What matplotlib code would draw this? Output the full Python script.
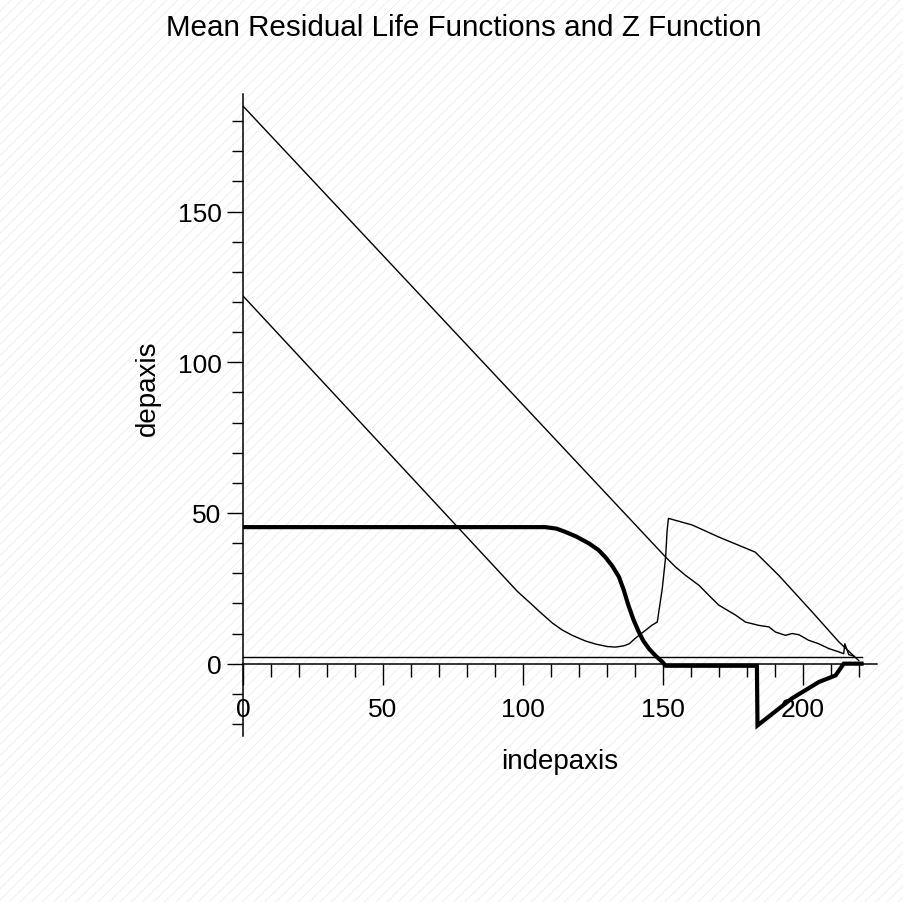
import matplotlib
matplotlib.use("Agg")
import matplotlib.pyplot as plt
from matplotlib.patches import Rectangle
from matplotlib.ticker import FixedLocator

plt.rcParams['font.family'] = ['Liberation Sans', 'DejaVu Sans']
plt.rcParams['hatch.linewidth'] = 0.6

# ---- data ----
upper_x = [0, 150.95, 154.5, 158.1, 162.9, 166.4, 170.0, 176.0, 179.5, 184.3, 187.9,
           190.2, 193.8, 196.2, 198.6, 202.1, 205.7, 209.3, 212.9, 214.6, 215.0,
           216.4, 218.2]
upper_y = [185, 35.4, 32.1, 29.3, 26.0, 22.7, 19.4, 16.1, 13.8, 12.7, 12.2,
           10.5, 9.4, 10.0, 9.6, 7.75, 6.6, 5.0, 3.9, 3.3, 6.6,
           3.0, 2.5]

lower_x = [0, 98, 100, 103, 106, 110.5, 114, 117.6, 122.4, 126, 130,
           133, 136, 138, 140, 143, 146, 148, 149.8, 151, 151.5, 152, 160.5,
           170, 183, 191.4, 203.3, 212.9, 220]
lower_y = [122, 24.0, 22.3, 19.8, 17.2, 13.5, 11.2, 9.4, 7.5, 6.5, 5.7,
           5.5, 5.9, 6.6, 8.3, 10.5, 12.7, 13.8, 25, 35.5, 44, 48.2, 46,
           42, 37, 29.3, 17.2, 7.2, 1]

z_x = [0, 108, 112, 115.2, 119, 123.6, 127, 129.5, 132, 134.3, 136, 137.6, 139.5,
       141.4, 143, 145, 147.5, 149.8, 151, 183.6, 183.8, 196, 205.7, 211.7,
       213.5, 214.6, 221]
z_y = [45.3, 45.3, 44.8, 43.7, 42.2, 39.9, 37.7, 35.3, 32.3, 28.8, 24.5, 19.6, 14.6,
       10.5, 7.6, 5.0, 2.5, 0.6, -0.7, -0.7, -20.5, -11.6, -6.1, -3.9,
       -1.5, 0, 0]

hline_x = [0, 221]
hline_y = [2.2, 2.2]

x_major = [0, 50, 100, 150, 200]
x_major_labels = ['0', '50', '100', '150', '200']
y_major = [0, 50, 100, 150]

title = "Mean Residual Life Functions and Z Function"
xlabel = "indepaxis"
ylabel = "depaxis"

W, H = 904, 903
fig = plt.figure(figsize=(W / 100, H / 100), dpi=100)
fig.patch.set_facecolor('white')
bg = Rectangle((0, 0), 1, 1, transform=fig.transFigure, facecolor='white',
               edgecolor='#ebebeb', linewidth=0, hatch='///', zorder=-10)
fig.patches.append(bg)

left, right, top, bottom = 243, 877, 95, 737
ax = fig.add_axes([left / W, 1 - bottom / H, (right - left) / W, (bottom - top) / H])
ax.set_facecolor('none')
ax.set_xlim(0, 226.5)
ax.set_ylim(-24, 189)

for s in ['top', 'right']:
    ax.spines[s].set_visible(False)
ax.spines['left'].set_position(('data', 0))
ax.spines['bottom'].set_position(('data', 0))
for s in ['left', 'bottom']:
    ax.spines[s].set_linewidth(1.1)
    ax.spines[s].set_color('black')

ax.plot(upper_x, upper_y, color='black', lw=1.0)
ax.plot(lower_x, lower_y, color='black', lw=1.0)
ax.plot(hline_x, hline_y, color='black', lw=1.0)
ax.plot(z_x, z_y, color='black', lw=3.0, solid_joinstyle='miter')

ax.xaxis.set_major_locator(FixedLocator(x_major))
ax.set_xticklabels(x_major_labels)
ax.xaxis.set_minor_locator(FixedLocator([v for v in range(10, 230, 10) if v % 50 != 0]))
ax.yaxis.set_major_locator(FixedLocator(y_major))
ax.yaxis.set_minor_locator(FixedLocator([v for v in range(-20, 190, 10) if v % 50 != 0]))

ax.tick_params(axis='x', which='major', direction='out', length=15, width=1.0,
               pad=9, labelsize=19)
ax.tick_params(axis='x', which='minor', direction='out', length=9.5, width=1.0)
ax.tick_params(axis='y', which='major', direction='out', length=11.5, width=1.0,
               pad=4, labelsize=19)
ax.tick_params(axis='y', which='minor', direction='out', length=8, width=1.0)

fig.text(464 / W, 1 - 28 / H, title, ha='center', va='center', fontsize=21.3)
fig.text(560 / W, 1 - 762 / H, xlabel, ha='center', va='center', fontsize=20)
fig.text(148 / W, 1 - 388 / H, ylabel, ha='center', va='center', fontsize=20,
         rotation=90)

fig.savefig('out.png', dpi=100)
